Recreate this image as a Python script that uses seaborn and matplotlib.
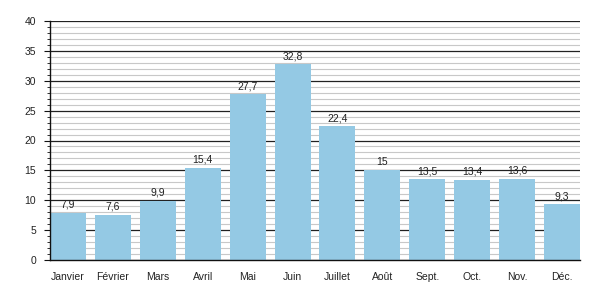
import matplotlib
matplotlib.use("Agg")
import matplotlib.pyplot as plt
import seaborn as sns
import pandas as pd
from matplotlib.ticker import MultipleLocator

months = ["Janvier", "Février", "Mars", "Avril", "Mai", "Juin", "Juillet",
          "Août", "Sept.", "Oct.", "Nov.", "Déc."]
values = [7.9, 7.6, 9.9, 15.4, 27.7, 32.8, 22.4, 15, 13.5, 13.4, 13.6, 9.3]
labels = ["7,9", "7,6", "9,9", "15,4", "27,7", "32,8", "22,4", "15", "13,5", "13,4", "13,6", "9,3"]

sns.set_theme(style="white")
plt.rcParams['font.family'] = ['Liberation Sans', 'DejaVu Sans']

df = pd.DataFrame({"month": months, "value": values})

fig = plt.figure(figsize=(6, 3), dpi=100)
ax = fig.add_axes([50/600, 40/300, 530/600, 239/300])

ax.set_ylim(0, 40)
ax.yaxis.set_major_locator(MultipleLocator(5))
ax.yaxis.set_minor_locator(MultipleLocator(1))
ax.grid(which="minor", axis="y", color="#c8c8c8", linewidth=0.8)
ax.grid(which="major", axis="y", color="#222222", linewidth=0.9)
ax.set_axisbelow(True)

sns.barplot(data=df, x="month", y="value", color="#94c9e4", saturation=1,
            width=0.8, ax=ax, zorder=3, linewidth=0, edgecolor="none")
ax.set_xlim(-0.4, 11.4)

for i, (v, lab) in enumerate(zip(values, labels)):
    ax.text(i, v + 0.5, lab, ha="center", va="bottom", fontsize=7.5, color="#222222", zorder=4)

for s in ["top", "right"]:
    ax.spines[s].set_visible(False)
for s in ["left", "bottom"]:
    ax.spines[s].set_color("#111111")
    ax.spines[s].set_linewidth(1.0)
    ax.spines[s].set_zorder(5)

ax.tick_params(axis="y", which="major", left=True, length=4, width=0.8, color="#111111",
               labelsize=7.5, labelcolor="#222222", pad=6)
ax.tick_params(axis="y", which="minor", left=True, length=2, width=0.6, color="#111111")
ax.tick_params(axis="x", bottom=False, labelsize=7.5, labelcolor="#222222", pad=3)
ax.set_xlabel("")
ax.set_ylabel("")

fig.savefig("out.png", dpi=100)
